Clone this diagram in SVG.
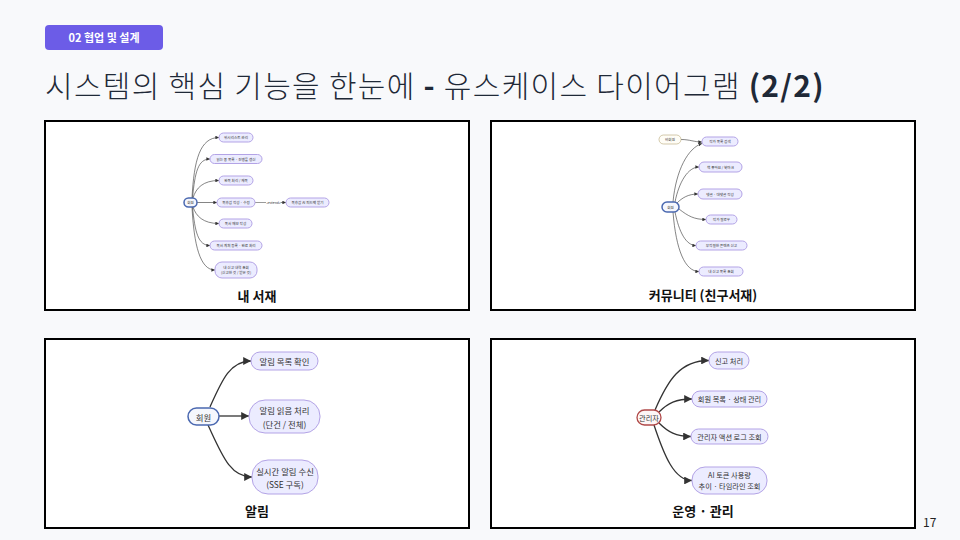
<svg xmlns="http://www.w3.org/2000/svg" width="960" height="540" viewBox="0 0 960 540">
<style>
text{font-family:"Noto Sans CJK KR","Noto Sans",sans-serif;}
.panel{fill:#ffffff;stroke:#000000;stroke-width:2;}
.cap{font-size:13px;font-weight:700;fill:#111111;text-anchor:middle;}
.uc{fill:#ececff;stroke:#b3a3e6;stroke-width:1;}
.uct{fill:#333333;text-anchor:middle;dominant-baseline:central;}
.root{fill:#f5f7fd;stroke:#4a68b0;stroke-width:1.5;}
.e{fill:none;stroke:#333333;stroke-width:1.3;marker-end:url(#arr);}
.es{fill:none;stroke:#333333;stroke-width:0.6;marker-end:url(#arr);}
.t4{font-size:3.6px;}
.t8{font-size:7.2px;}
.t9{font-size:8.4px;}
</style>
<defs>
<marker id="arr" viewBox="0 0 10 10" refX="10" refY="5" markerWidth="6" markerHeight="6" markerUnits="strokeWidth" orient="auto">
<path d="M0,0 L10,5 L0,10 z" fill="#333333"/>
</marker>
</defs>
<rect width="960" height="540" fill="#f8f9fb"/>
<g id="badge">
<rect x="45" y="25" width="118" height="25" rx="4" fill="#6c5ce7"/>
<text x="104" y="41.5" font-size="11" font-weight="700" fill="#ffffff" text-anchor="middle">02 협업 및 설계</text>
</g>
<g id="title">
<text x="45" y="97" font-size="30" font-weight="300" letter-spacing="1.3" fill="#1f2937">시스템의 핵심 기능을 한눈에 <tspan font-weight="700">-</tspan> 유스케이스 다이어그램 <tspan font-weight="700">(2/2)</tspan></text>
</g>
<g id="panels">
<rect class="panel" x="45" y="121" width="424" height="189"/>
<rect class="panel" x="491" y="121" width="424" height="189"/>
<rect class="panel" x="45" y="339" width="424" height="189"/>
<rect class="panel" x="491" y="339" width="424" height="189"/>
<text class="cap" x="257" y="301">내 서재</text>
<text class="cap" x="703" y="300">커뮤니티 (친구서재)</text>
<text class="cap" x="257" y="516">알림</text>
<text class="cap" x="703" y="516">운영 · 관리</text>
</g>
<g id="connectors">
<path class="es" d="M192,198 C194,160 200,137.5 219,137.5"/>
<path class="es" d="M192.5,198 C195,172 198,159 210,159"/>
<path class="es" d="M193,198 C196,188 203,180.5 219,180.5"/>
<path class="es" d="M197,202.5 L217,202.5"/>
<path class="es" d="M193,207 C196,216 203,223.5 219,223.5"/>
<path class="es" d="M192.5,207 C195,232 198,245.5 210,245.5"/>
<path class="es" d="M192,207 C194,245 200,270 215,270"/>
<path d="M255,202.5 L266,202.5" fill="none" stroke="#555555" stroke-width="0.6"/>
<path class="es" d="M280.5,202.5 L286,202.5"/>
<text x="273.5" y="202.7" font-size="3.4" fill="#333333" text-anchor="middle" dominant-baseline="central">«extend»</text>
<path class="es" d="M681,139.5 C690,139.5 694,142 702,142"/>
<path class="es" d="M673,202 C676,170 688,148 702,143.5"/>
<path class="es" d="M675,202 C679,182 688,167 699,167"/>
<path class="es" d="M677,203 C682,198 688,194 698,194"/>
<path class="es" d="M679,209 C688,216 694,219.5 706,219.5"/>
<path class="es" d="M675,212 C679,232 686,245.5 696,245.5"/>
<path class="es" d="M673,212 C676,250 685,271.5 699,271.5"/>
<path class="e" d="M210,407 C222,380 230,361 251,361"/>
<path class="e" d="M219,416 L249,416"/>
<path class="e" d="M208,425 C222,455 230,477 252,477"/>
<path class="e" d="M655,410 C668,380 680,360.5 709,360.5"/>
<path class="e" d="M659,412 C668,403 676,399 692,399"/>
<path class="e" d="M659,423 C668,432 676,436.5 691,436.5"/>
<path class="e" d="M654,425 C664,455 674,480.5 692,480.5"/>
</g>
<g id="tl-root"><rect class="root" x="184" y="198" width="13" height="9" rx="4.5" stroke-width="0.6"/><text class="uct t4" x="190.5" y="202.5">회원</text></g>
<g id="tl-n1"><rect class="uc" x="219" y="133" width="34" height="9" rx="4.5" stroke-width="0.5"/><text class="uct t4" x="236" y="137.5">위시리스트 관리</text></g>
<g id="tl-n2"><rect class="uc" x="210" y="154.5" width="52" height="9" rx="4.5" stroke-width="0.5"/><text class="uct t4" x="236" y="159">읽는 중 목록 · 진행률 갱신</text></g>
<g id="tl-n3"><rect class="uc" x="219" y="176" width="34" height="9" rx="4.5" stroke-width="0.5"/><text class="uct t4" x="236" y="180.5">완독 처리 / 재독</text></g>
<g id="tl-n4"><rect class="uc" x="217" y="198" width="38" height="9" rx="4.5" stroke-width="0.5"/><text class="uct t4" x="236" y="202.5">독후감 작성 · 수정</text></g>
<g id="tl-n5"><rect class="uc" x="286" y="198" width="43" height="9" rx="4.5" stroke-width="0.5"/><text class="uct t4" x="307.5" y="202.5">독후감 AI 피드백 받기</text></g>
<g id="tl-n6"><rect class="uc" x="219" y="219" width="33" height="9" rx="4.5" stroke-width="0.5"/><text class="uct t4" x="235.5" y="223.5">독서 메모 작성</text></g>
<g id="tl-n7"><rect class="uc" x="210" y="241" width="52" height="9" rx="4.5" stroke-width="0.5"/><text class="uct t4" x="236" y="245.5">독서 계획 등록 · 완료 처리</text></g>
<g id="tl-n8"><rect class="uc" x="215" y="262" width="42" height="16" rx="7" stroke-width="0.5"/><text class="uct t4" x="236" y="267.3">내 신고 내역 조회</text><text class="uct t4" x="236" y="272.8">(신고한 것 / 받은 것)</text></g>
<g id="tr-guest"><rect x="659" y="135" width="22" height="9" rx="4.5" fill="#fffdf6" stroke="#b5a677" stroke-width="0.6"/><text class="uct t4" x="670" y="139.5">비회원</text></g>
<g id="tr-root"><rect class="root" x="662" y="202" width="17" height="10" rx="5" stroke-width="0.6"/><text class="uct t4" x="670.5" y="207">회원</text></g>
<g id="tr-n1"><rect class="uc" x="702" y="137" width="36" height="9" rx="4.5" stroke-width="0.5"/><text class="uct t4" x="720" y="141.5">작가 목록 검색</text></g>
<g id="tr-n2"><rect class="uc" x="699" y="162" width="43" height="10" rx="5" stroke-width="0.5"/><text class="uct t4" x="720.5" y="167">책 좋아요 / 북마크</text></g>
<g id="tr-n3"><rect class="uc" x="698" y="189" width="44" height="10" rx="5" stroke-width="0.5"/><text class="uct t4" x="720" y="194">댓글 · 대댓글 작성</text></g>
<g id="tr-n4"><rect class="uc" x="706" y="215" width="31" height="9" rx="4.5" stroke-width="0.5"/><text class="uct t4" x="721.5" y="219.5">작가 팔로우</text></g>
<g id="tr-n5"><rect class="uc" x="696" y="241" width="51" height="9" rx="4.5" stroke-width="0.5"/><text class="uct t4" x="721.5" y="245.5">부적절한 콘텐츠 신고</text></g>
<g id="tr-n6"><rect class="uc" x="699" y="267" width="44" height="9" rx="4.5" stroke-width="0.5"/><text class="uct t4" x="721" y="271.5">내 신고 목록 조회</text></g>
<g id="bl-root"><rect class="root" x="188" y="408" width="31" height="17" rx="8.5"/><text class="uct t9" x="203.5" y="416.5">회원</text></g>
<g id="bl-n1"><rect class="uc" x="251" y="352" width="67" height="18" rx="9"/><text class="uct t9" x="284.5" y="361">알림 목록 확인</text></g>
<g id="bl-n2"><rect class="uc" x="249" y="400" width="71" height="33" rx="16"/><text class="uct t9" x="284.5" y="410">알림 읽음 처리</text><text class="uct t9" x="284.5" y="423.5">(단건 / 전체)</text></g>
<g id="bl-n3"><rect class="uc" x="252" y="460" width="66" height="34" rx="16"/><text class="uct t9" x="285" y="470.5">실시간 알림 수신</text><text class="uct t9" x="285" y="483.5">(SSE 구독)</text></g>
<g id="br-root"><rect x="637" y="410" width="24" height="15" rx="7.5" fill="#fdf6f6" stroke="#b04848" stroke-width="1.3"/><text class="uct t8" x="649" y="417.5">관리자</text></g>
<g id="br-n1"><rect class="uc" x="709" y="352" width="40" height="17" rx="8.5"/><text class="uct t8" x="729" y="360.5">신고 처리</text></g>
<g id="br-n2"><rect class="uc" x="692" y="391" width="75" height="16" rx="8"/><text class="uct t8" x="729.5" y="399">회원 목록 · 상태 관리</text></g>
<g id="br-n3"><rect class="uc" x="691" y="429" width="77" height="15" rx="7.5"/><text class="uct t8" x="729.5" y="436.5">관리자 액션 로그 조회</text></g>
<g id="br-n4"><rect class="uc" x="692" y="467" width="75" height="27" rx="13"/><text class="uct t8" x="729.5" y="475">AI 토큰 사용량</text><text class="uct t8" x="729.5" y="486">추이 · 타임라인 조회</text></g>
<text x="923" y="527" font-size="12" fill="#222222" font-family="Liberation Sans, Arial, sans-serif">17</text>
</svg>
